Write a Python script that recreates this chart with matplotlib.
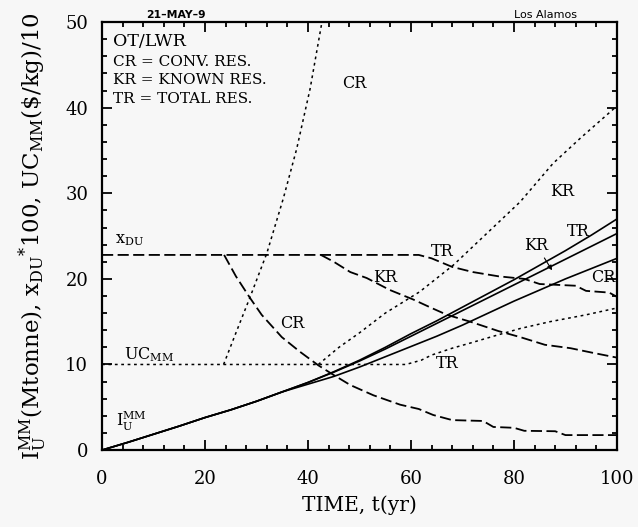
import matplotlib
matplotlib.use("Agg")
import matplotlib.pyplot as plt
from matplotlib.ticker import MultipleLocator

# ---------------- data ----------------
# I_U^MM (Mtonne), solid lines
t_inv = [0, 5, 10, 15, 20, 25, 30, 35, 40, 45, 50, 55, 60, 65, 70, 75, 80, 85, 90, 95, 100]
inv_TR = [0, 0.9, 1.85, 2.8, 3.8, 4.7, 5.7, 6.8, 7.9, 9.15, 10.5, 12.0, 13.6, 15.1, 16.7, 18.3, 19.9, 21.6, 23.3, 25.1, 27.0]
inv_KR = [0, 0.9, 1.85, 2.8, 3.8, 4.7, 5.7, 6.8, 7.9, 9.1, 10.4, 11.8, 13.3, 14.8, 16.3, 17.8, 19.3, 20.8, 22.3, 23.8, 25.3]
inv_CR = [0, 0.9, 1.85, 2.8, 3.8, 4.7, 5.7, 6.8, 7.7, 8.6, 9.7, 10.9, 12.1, 13.3, 14.6, 16.0, 17.4, 18.7, 20.0, 21.2, 22.4]

# x_DU * 100, dashed lines
t_xdu_TR = [0, 61.5, 64, 68, 72, 77, 82, 85, 92, 94, 98.5, 100]
xdu_TR = [22.8, 22.8, 22.4, 21.4, 20.8, 20.3, 20.0, 19.4, 19.2, 18.6, 18.4, 17.9]
t_xdu_KR = [42.5, 45, 48.2, 51.4, 55.9, 60.4, 64, 67, 71.5, 77, 81.2, 86, 91, 95, 100]
xdu_KR = [22.8, 22.0, 20.8, 20.1, 18.7, 17.6, 16.6, 15.8, 15.0, 13.9, 13.2, 12.3, 11.9, 11.4, 10.8]
t_xdu_CR = [23.7, 26, 28.7, 31, 34.9, 38.4, 42, 44.9, 48.2, 52.7, 57.9, 61.5, 64.3, 68, 74, 76, 80, 82, 88, 90, 100]
xdu_CR = [22.8, 20.3, 17.8, 15.8, 13.2, 11.5, 9.9, 8.8, 7.6, 6.4, 5.3, 4.8, 4.1, 3.5, 3.4, 2.7, 2.6, 2.25, 2.2, 1.75, 1.75]

# UC_MM ($/kg)/10, dotted lines
t_uc_TR = [0, 59, 62, 64, 68, 71.5, 76, 81.2, 87, 94, 100]
uc_TR = [10, 10, 10.5, 11.1, 11.9, 12.5, 13.3, 14.2, 15.0, 15.8, 16.6]
t_uc_KR = [42, 46, 50, 55, 61.7, 68.2, 74.7, 81.2, 87.6, 93, 100]
uc_KR = [10, 12.0, 13.7, 16.0, 18.5, 21.6, 25.3, 29.0, 33.5, 36.5, 40.2]
t_uc_CR = [23.6, 26, 28.7, 32, 35.2, 37.8, 40.4, 42.7]
uc_CR = [10, 13.7, 17.8, 23.0, 29.4, 35.2, 42.2, 50]

x_ticks = [0, 20, 40, 60, 80, 100]
y_ticks = [0, 10, 20, 30, 40, 50]

# ---------------- style ----------------
plt.rcParams['lines.scale_dashes'] = False
plt.rcParams['font.family'] = ['DejaVu Serif']
plt.rcParams['mathtext.fontset'] = 'dejavuserif'

BG = '#f7f7f7'
fig = plt.figure(figsize=(6.38, 5.27), dpi=100, facecolor=BG)
ax = fig.add_axes([0.160, 0.146, 0.807, 0.812], facecolor=BG)

lw_solid = 1.2
dash_long = (8.0, 3.2)
dot_short = (2.0, 2.6)

for y in (inv_TR, inv_KR, inv_CR):
    ax.plot(t_inv, y, color='black', lw=lw_solid, solid_joinstyle='round')

for tt, y in ((t_xdu_TR, xdu_TR), (t_xdu_KR, xdu_KR), (t_xdu_CR, xdu_CR)):
    ax.plot(tt, y, color='black', lw=1.3, dashes=dash_long)

for tt, y in ((t_uc_TR, uc_TR), (t_uc_KR, uc_KR), (t_uc_CR, uc_CR)):
    ax.plot(tt, y, color='black', lw=1.1, dashes=dot_short)

ax.set_xlim(0, 100)
ax.set_ylim(0, 50)
ax.set_xticks(x_ticks)
ax.set_yticks(y_ticks)
ax.xaxis.set_minor_locator(MultipleLocator(4))
ax.yaxis.set_minor_locator(MultipleLocator(2))
ax.tick_params(which='both', direction='in', top=True, right=True, width=1.3, colors='black')
ax.tick_params(which='major', length=7, labelsize=13)
ax.tick_params(which='minor', length=3.5)
ax.tick_params(axis='x', pad=14)
ax.tick_params(axis='y', pad=10)
for s in ax.spines.values():
    s.set_linewidth(1.6)

ax.set_xlabel('TIME, t(yr)', fontsize=14.5, labelpad=6)
ax.set_ylabel(r'I$_{\rm U}^{\rm MM}$(Mtonne), x$_{\rm DU}$$^{*}$100, UC$_{\rm MM}$(\$/kg)/10',
              fontsize=16.5, labelpad=12)

# legend text block
fs_leg = 11
ax.text(2.1, 47.7, 'OT/LWR', fontsize=12.5, va='center', ha='left')
ax.text(2.1, 45.4, 'CR = CONV. RES.', fontsize=fs_leg, va='center', ha='left')
ax.text(2.1, 43.2, 'KR = KNOWN RES.', fontsize=fs_leg, va='center', ha='left')
ax.text(2.1, 41.0, 'TR = TOTAL RES.', fontsize=fs_leg, va='center', ha='left')

# curve labels
fs_lab = 11.5
ax.text(2.5, 24.6, r'x$_{\rm DU}$', fontsize=11.5, ha='left', va='center')
ax.text(4.3, 11.1, r'UC$_{\rm MM}$', fontsize=11.5, ha='left', va='center')
ax.text(2.8, 3.3, r'I$_{\rm U}^{\rm MM}$', fontsize=11.5, ha='left', va='center')
ax.text(49.0, 42.8, 'CR', fontsize=fs_lab, ha='center', va='center')
ax.text(37.0, 14.8, 'CR', fontsize=fs_lab, ha='center', va='center')
ax.text(55.0, 20.2, 'KR', fontsize=fs_lab, ha='center', va='center')
ax.text(66.0, 23.2, 'TR', fontsize=fs_lab, ha='center', va='center')
ax.text(67.0, 10.1, 'TR', fontsize=fs_lab, ha='center', va='center')
ax.text(89.4, 30.2, 'KR', fontsize=fs_lab, ha='center', va='center')
ax.text(92.5, 25.5, 'TR', fontsize=fs_lab, ha='center', va='center')
ax.text(97.4, 20.2, 'CR', fontsize=fs_lab, ha='center', va='center')
ax.annotate('KR', xy=(87.4, 21.0), xytext=(84.4, 23.9), fontsize=fs_lab,
            ha='center', va='center',
            arrowprops=dict(arrowstyle='-|>', color='black', lw=0.8,
                            mutation_scale=7, shrinkA=1, shrinkB=0))

# header annotations
fig.text(176 / 638, 1 - 15 / 527, '21\u2013MAY\u20139', fontsize=7.8, ha='center', va='center',
         family='DejaVu Sans', weight='bold')
fig.text(545 / 638, 1 - 15 / 527, 'Los Alamos', fontsize=8, ha='center', va='center',
         family='DejaVu Sans')

fig.savefig('out.png', dpi=100, facecolor=BG)
